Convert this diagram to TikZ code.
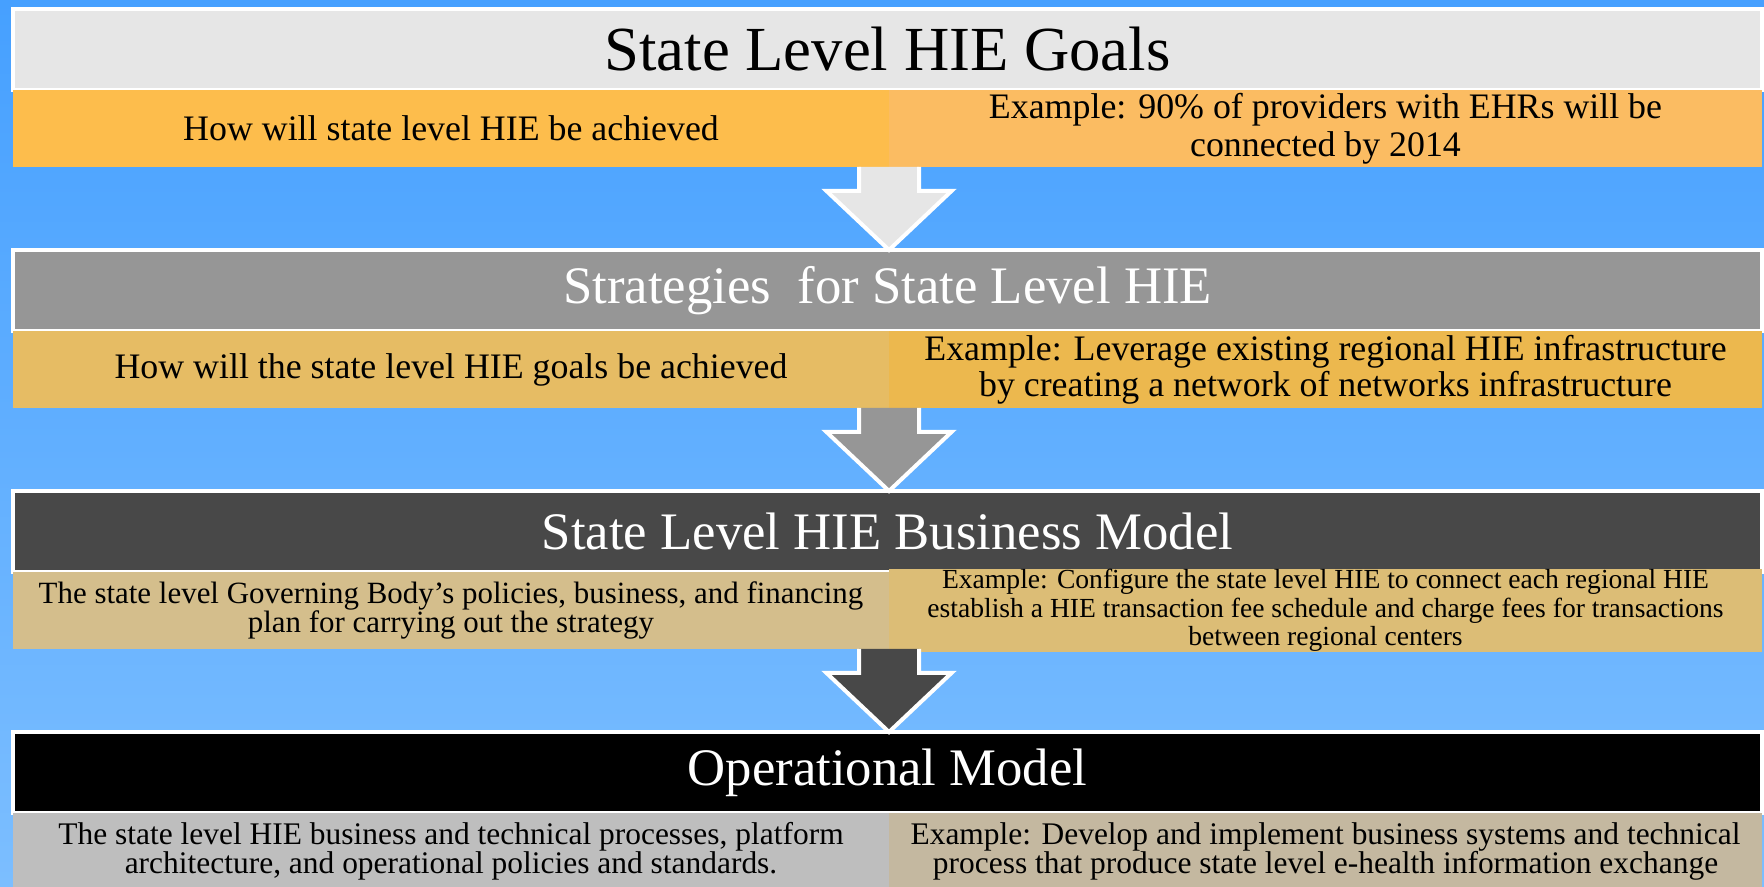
\documentclass[tikz,border=0pt]{standalone}
\usepackage{fontspec}
\setmainfont{Liberation Serif}
\usetikzlibrary{positioning}
\definecolor{skytop}{RGB}{70,160,255}
\definecolor{skybottom}{RGB}{124,190,255}
\definecolor{goalsgray}{RGB}{230,230,230}
\definecolor{goalsleft}{RGB}{253,189,76}
\definecolor{goalsright}{RGB}{251,188,98}
\definecolor{stratgray}{RGB}{150,150,150}
\definecolor{stratleft}{RGB}{230,188,100}
\definecolor{stratright}{RGB}{236,184,78}
\definecolor{bizgray}{RGB}{72,72,72}
\definecolor{bizleft}{RGB}{212,190,140}
\definecolor{bizright}{RGB}{220,189,118}
\definecolor{opsleft}{RGB}{190,190,190}
\definecolor{opsright}{RGB}{196,184,160}
\tikzstyle{titlebar} = [rectangle, draw=white, line width=0.07cm, inner sep=0pt, outer sep=0pt, minimum width=34.98cm, minimum height=1.62cm, text=white, font=\fontsize{30}{34}\selectfont]
\tikzstyle{cell} = [rectangle, inner sep=0pt, outer sep=0pt, minimum width=17.52cm, minimum height=1.54cm, align=center, text=black, font=\fontsize{20.4}{21.5}\selectfont]
\tikzstyle{blockarrow} = [draw=white, line width=0.08cm, line join=miter]

\begin{document}
\begin{tikzpicture}

% Backdrop
\useasboundingbox (0,0) rectangle (35.28,17.72);
\fill [top color=skytop, bottom color=skybottom] (0,0) rectangle (35.28,17.72);

% State Level HIE Goals
\node (goals-title) [titlebar, fill=goalsgray, text=black, font=\fontsize{35.7}{40}\selectfont] at (17.75,16.73) {State Level HIE Goals};
\node (goals-how) [cell, fill=goalsleft, below right=0cm and 0cm of goals-title.south west] {How will state level HIE be achieved};
\node (goals-example) [cell, fill=goalsright, minimum width=17.46cm, right=0cm of goals-how] {Example: 90\% of providers with EHRs will be\\connected by 2014};

% Strategies
\node (strat-title) [titlebar, fill=stratgray, below=3.2cm of goals-title] {Strategies~~for State Level HIE};
\node (strat-how) [cell, fill=stratleft, below right=0cm and 0cm of strat-title.south west] {How will the state level HIE goals be achieved};
\node (strat-example) [cell, fill=stratright, minimum width=17.46cm, right=0cm of strat-how, font=\fontsize{20.4}{20.4}\selectfont] {Example: Leverage existing regional HIE infrastructure\\by creating a network of networks infrastructure};

% Business model
\node (biz-title) [titlebar, fill=bizgray, below=3.2cm of strat-title] {State Level HIE Business Model};
\node (biz-plan) [cell, fill=bizleft, below right=0cm and 0cm of biz-title.south west, font=\fontsize{17.6}{17}\selectfont] {The state level Governing Body’s policies, business, and financing\\plan for carrying out the strategy};
\node (biz-example) [cell, fill=bizright, minimum width=17.46cm, right=0cm of biz-plan, font=\fontsize{15.7}{16.2}\selectfont] {Example: Configure the state level HIE to connect each regional HIE\\establish a HIE transaction fee schedule and charge fees for transactions\\between regional centers};

% Operational model
\node (ops-title) [titlebar, fill=black, below=3.2cm of biz-title] {Operational Model};
\node (ops-process) [cell, fill=opsleft, below right=0cm and 0cm of ops-title.south west, font=\fontsize{17.9}{16.5}\selectfont] {The state level HIE business and technical processes, platform\\architecture, and operational policies and standards.};
\node (ops-example) [cell, fill=opsright, minimum width=17.46cm, right=0cm of ops-process, font=\fontsize{17.9}{16.5}\selectfont] {Example: Develop and implement business systems and technical\\process that produce state level e-health information exchange};

% Arrows
\draw [blockarrow, fill=goalsgray] ([xshift=-0.6cm]goals-how.south east) -- ++(0,-0.48) -- ++(-0.65,0) -- (goals-how.south east |- strat-title.north) -- ([xshift=1.25cm,yshift=-0.48cm]goals-how.south east) -- ++(-0.65,0) -- ([xshift=0.6cm]goals-how.south east);
\draw [blockarrow, fill=stratgray] ([xshift=-0.6cm]strat-how.south east) -- ++(0,-0.48) -- ++(-0.65,0) -- (strat-how.south east |- biz-title.north) -- ([xshift=1.25cm,yshift=-0.48cm]strat-how.south east) -- ++(-0.65,0) -- ([xshift=0.6cm]strat-how.south east);
\draw [blockarrow, fill=bizgray] ([xshift=-0.6cm]biz-plan.south east) -- ++(0,-0.48) -- ++(-0.65,0) -- (biz-plan.south east |- ops-title.north) -- ([xshift=1.25cm,yshift=-0.48cm]biz-plan.south east) -- ++(-0.65,0) -- ([xshift=0.6cm]biz-plan.south east);

\end{tikzpicture}
\end{document}
